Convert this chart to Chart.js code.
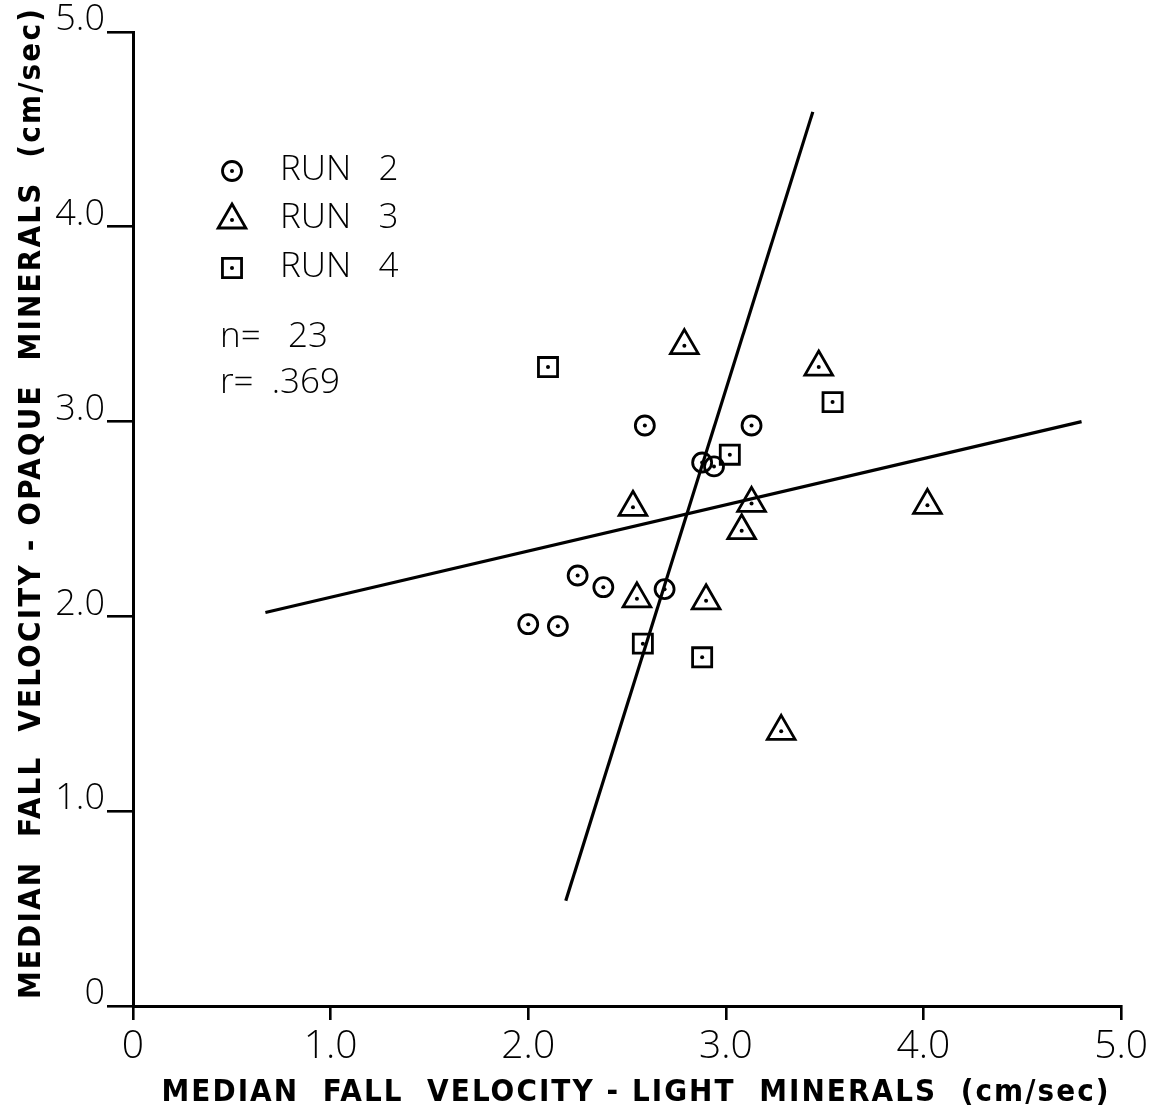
<!DOCTYPE html>
<html lang="en">
<head>
    <meta charset="UTF-8">
    <title>Median fall velocity - light vs opaque minerals</title>
    <script src="https://cdn.jsdelivr.net/npm/chart.js"></script>
    <style>
        html, body { margin: 0; padding: 0; background: #fff; }
        #wrap { position: relative; width: 1151px; height: 1116px; }
    </style>
</head>
<body>
    <div id="wrap">
        <canvas id="scatter" width="1151" height="1116"></canvas>
    </div>
    <script>
        // values (cm/sec)
        const run2X = [2.59, 3.13, 2.88, 2.94, 2.25, 2.38, 2.69, 2.00, 2.15];
        const run2Y = [2.98, 2.98, 2.79, 2.77, 2.21, 2.15, 2.14, 1.96, 1.95];
        const run3X = [2.79, 3.47, 2.53, 3.13, 3.08, 2.55, 2.90, 3.28, 4.02];
        const run3Y = [3.39, 3.28, 2.56, 2.58, 2.44, 2.09, 2.08, 1.41, 2.57];
        const run4X = [2.10, 3.54, 3.02, 2.58, 2.88];
        const run4Y = [3.28, 3.10, 2.83, 1.86, 1.79];
        // the two regression lines, end points
        const lineAX = [0.67, 4.80];
        const lineAY = [2.02, 3.00];
        const lineBX = [2.19, 3.44];
        const lineBY = [0.54, 4.59];
        const tickValues = [0, 1, 2, 3, 4, 5];
        const tickLabels = ['0', '1.0', '2.0', '3.0', '4.0', '5.0'];
        const runNames = ['RUN   2', 'RUN   3', 'RUN   4'];
        const nText = 'n=   23';
        const rText = 'r=  .369';
        const xTitle = 'MEDIAN  FALL  VELOCITY - LIGHT  MINERALS  (cm/sec)';
        const yTitle = 'MEDIAN  FALL  VELOCITY - OPAQUE  MINERALS  (cm/sec)';

        const thinFont = "'Open Sans', 'Liberation Sans', sans-serif";
        const boldFont = "'Liberation Sans Narrow', 'DejaVu Sans Condensed', 'Liberation Sans', sans-serif";

        const toXY = (xs, ys) => xs.map((x, i) => ({ x: x, y: ys[i] }));

        const markers = [
            { label: 'RUN 2', style: 'circle', radius: 9.5, xs: run2X, ys: run2Y },
            { label: 'RUN 3', style: 'triangle', radius: 16, xs: run3X, ys: run3Y },
            { label: 'RUN 4', style: 'rect', radius: 13.5, xs: run4X, ys: run4Y }
        ];

        const datasets = [];
        markers.forEach(m => {
            datasets.push({
                label: m.label,
                data: toXY(m.xs, m.ys),
                pointStyle: m.style,
                pointRadius: m.radius,
                pointBorderWidth: 2.8,
                pointBorderColor: '#000',
                pointBackgroundColor: 'rgba(0,0,0,0)',
                showLine: false,
                clip: false
            });
            // centre dot of each marker
            datasets.push({
                label: m.label + ' dot',
                data: toXY(m.xs, m.ys),
                pointStyle: 'circle',
                pointRadius: 2,
                pointBorderWidth: 0,
                pointBackgroundColor: '#000',
                showLine: false,
                clip: false
            });
        });
        [[lineAX, lineAY], [lineBX, lineBY]].forEach(([xs, ys], i) => {
            datasets.push({
                label: 'fit ' + (i + 1),
                data: toXY(xs, ys),
                showLine: true,
                borderColor: '#000',
                borderWidth: 3.2,
                pointRadius: 0,
                clip: false
            });
        });

        // legend, n / r and the two axis titles
        const annotations = {
            id: 'annotations',
            afterDraw(chart) {
                const ctx = chart.ctx;
                ctx.save();
                ctx.fillStyle = '#000';
                ctx.strokeStyle = '#000';
                ctx.textBaseline = 'alphabetic';
                ctx.textAlign = 'left';

                const rows = [180, 228, 277];
                markers.forEach((m, i) => {
                    ctx.save();
                    ctx.lineWidth = 2.8;
                    ctx.fillStyle = 'rgba(0,0,0,0)';
                    const cy = rows[i] - 9 + (m.style === 'triangle' ? 1 : 0);
                    Chart.helpers.drawPoint(ctx, { pointStyle: m.style, radius: m.radius, borderWidth: 2.8, rotation: 0 }, 232, cy);
                    ctx.fillStyle = '#000';
                    ctx.beginPath();
                    ctx.arc(232, cy, 2, 0, Math.PI * 2);
                    ctx.fill();
                    ctx.restore();
                    ctx.font = '300 35px ' + thinFont;
                    ctx.fillText(runNames[i], 280, rows[i]);
                });
                ctx.font = '300 35px ' + thinFont;
                ctx.fillText(nText, 220, 347);
                ctx.fillText(rText, 220, 393);

                // axis titles, spread to the width used in the figure
                const spread = (text, width) => {
                    ctx.letterSpacing = '0px';
                    const w = ctx.measureText(text).width;
                    const gap = Math.max(0, (width - w) / (text.length - 1));
                    ctx.letterSpacing = gap + 'px';
                };
                ctx.font = 'bold 31px ' + boldFont;
                ctx.textAlign = 'center';
                spread(xTitle, 947);
                ctx.fillText(xTitle, 636, 1101);

                ctx.translate(40, 503);
                ctx.rotate(-Math.PI / 2);
                spread(yTitle, 990);
                ctx.fillText(yTitle, 0, 0);
                ctx.restore();
            }
        };

        const axisCommon = {
            type: 'linear',
            min: 0,
            max: 5,
            afterBuildTicks: s => { s.ticks = tickValues.map(v => ({ value: v })); },
            grid: {
                drawOnChartArea: false,
                drawTicks: true,
                color: '#000',
                lineWidth: 2.6
            },
            border: { display: true, color: '#000', width: 3 }
        };

        new Chart(document.getElementById('scatter'), {
            type: 'scatter',
            data: { datasets: datasets },
            options: {
                responsive: false,
                animation: false,
                events: [],
                layout: { padding: { top: 32, right: 29, left: 0, bottom: 0 } },
                plugins: { legend: { display: false }, tooltip: { enabled: false } },
                scales: {
                    x: Object.assign({}, axisCommon, {
                        grid: Object.assign({}, axisCommon.grid, { tickLength: 14 }),
                        ticks: {
                            callback: v => tickLabels[tickValues.indexOf(v)],
                            color: '#000',
                            font: { family: thinFont, size: 39, weight: '300' },
                            padding: 3,
                            maxRotation: 0
                        },
                        afterFit: s => { s.height = 110; }
                    }),
                    y: Object.assign({}, axisCommon, {
                        grid: Object.assign({}, axisCommon.grid, { tickLength: 26 }),
                        ticks: {
                            callback: v => tickLabels[tickValues.indexOf(v)],
                            color: '#000',
                            font: { family: thinFont, size: 36, weight: '300' },
                            padding: 2,
                            labelOffset: -12
                        },
                        afterFit: s => { s.width = 133; }
                    })
                }
            },
            plugins: [annotations]
        });
    </script>
</body>
</html>
